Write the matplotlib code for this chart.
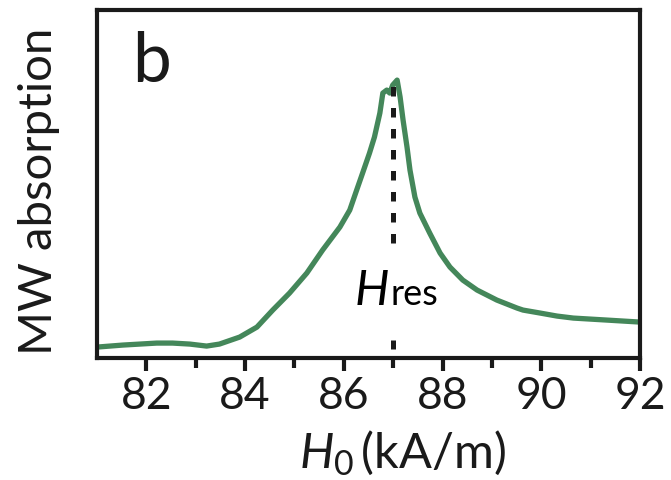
import matplotlib
matplotlib.use('Agg')
import matplotlib.pyplot as plt

# field (kA/m) and absorption (arb. units)
field = [81.0, 81.52, 82.21, 82.53, 82.88, 83.22, 83.48, 83.89, 84.24, 84.56,
         84.90, 85.25, 85.57, 85.92, 86.12, 86.26, 86.38, 86.52, 86.62, 86.73,
         86.79, 86.87, 86.93, 86.99, 87.08, 87.14, 87.20, 87.28, 87.34, 87.44,
         87.54, 87.74, 87.95, 88.15, 88.41, 88.70, 89.10, 89.51, 89.63, 89.98,
         90.32, 90.65, 90.99, 91.33, 92.0]
absorption = [11, 13, 15, 15, 14, 12, 14, 21, 31, 48,
              65, 85, 108, 131, 148, 168, 185, 205, 221, 245,
              265, 268, 265, 273, 278, 261, 238, 211, 188, 161,
              145, 125, 105, 91, 78, 68, 58, 50, 48, 45,
              42, 40, 39, 38, 36]
h_res = 87.0
xticks = [82, 84, 86, 88, 90, 92]
minor_ticks = [83, 85, 87, 89, 91]

plt.rcParams['font.family'] = ['Lato', 'DejaVu Sans']
plt.rcParams['mathtext.fontset'] = 'custom'
plt.rcParams['mathtext.it'] = 'Lato:italic'
plt.rcParams['mathtext.rm'] = 'Lato'

ink = '#1a1a1a'
fig = plt.figure(figsize=(6.71, 4.8), dpi=100)
ax = fig.add_axes([0.1446, 0.254, 0.8092, 0.725])

ax.plot(field, absorption, color='#44875a', lw=3.8,
        solid_joinstyle='round', solid_capstyle='butt')

# resonance marker
ax.plot([h_res, h_res], [115, 277], color=ink, lw=3.6,
        linestyle=(0, (1.9, 2.3)))
ax.plot([h_res, h_res], [9, 18], color=ink, lw=3.6, solid_capstyle='butt')
ax.text(h_res - 0.09, 53, r'$H$', fontsize=35, ha='right', va='baseline')
ax.text(h_res - 0.06, 53, 'res', fontsize=26, ha='left', va='baseline')

ax.text(0.065, 0.85, 'b', transform=ax.transAxes, fontsize=50,
        ha='left', va='center', color=ink)

ax.set_xlim(81, 92)
ax.set_ylim(0, 348)
ax.set_xticks(xticks)
ax.set_xticks(minor_ticks, minor=True)
ax.set_yticks([])
ax.tick_params(axis='x', which='major', direction='out', length=9, width=3,
               labelsize=32, pad=4, colors=ink)
ax.tick_params(axis='x', which='minor', direction='out', length=7, width=3,
               colors=ink)
for s in ax.spines.values():
    s.set_linewidth(3)
    s.set_color(ink)

ax.set_xlabel(r'$H_0\,$(kA/m)', fontsize=35, color=ink)
ax.xaxis.set_label_coords(0.562, -0.2)
ax.set_ylabel('MW absorption', fontsize=34, color=ink)
ax.yaxis.set_label_coords(-0.068, 0.48)

fig.savefig('out.png', dpi=100)
